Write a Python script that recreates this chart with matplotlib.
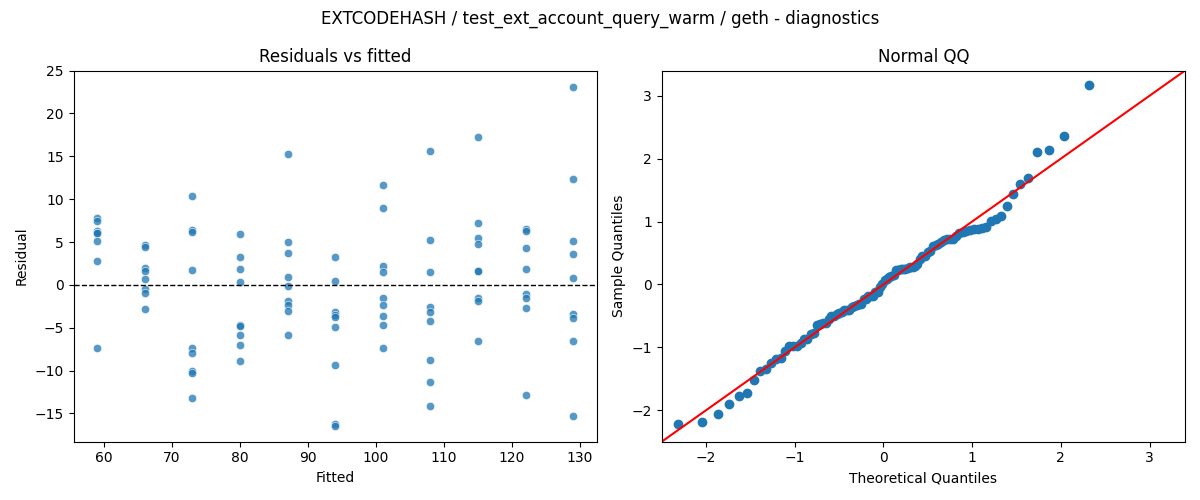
import numpy as np
import matplotlib
matplotlib.use("Agg")
import matplotlib.pyplot as plt
from statistics import NormalDist

fitted_levels = [59, 66, 73, 80, 87, 94, 101, 108, 115, 122, 129]
residual_groups = [
    [7.8, 7.5, 6.3, 6.0, 5.1, 2.8, -7.4, 6.1],
    [4.6, 4.4, 2.0, 1.6, 0.7, -0.5, -1.0, -2.8],
    [10.4, 6.4, 6.2, 1.7, -7.4, -7.9, -10.1, -10.3, -13.2],
    [5.9, 3.2, 1.9, 0.3, -4.7, -4.8, -5.8, -7.0, -8.9],
    [15.3, 5.0, 3.7, 0.9, -0.1, -1.9, -2.4, -3.1, -5.9],
    [3.2, 0.5, -3.2, -3.5, -3.8, -4.9, -9.4, -16.2, -16.5],
    [11.6, 9.0, 2.2, 1.5, -1.5, -2.4, -3.6, -4.7, -7.4],
    [15.6, 5.2, 1.5, -2.6, -3.2, -4.2, -8.8, -11.3, -14.1],
    [17.2, 7.2, 5.5, 4.8, 1.6, 1.6, -1.5, -1.9, -6.6],
    [6.5, 6.3, 4.3, 1.9, -1.1, -1.5, -2.7, -12.9],
    [23.1, 12.3, 5.1, 3.6, 0.8, -3.4, -3.9, -6.6, -15.3],
]

fitted = np.concatenate([[f] * len(g) for f, g in zip(fitted_levels, residual_groups)])
resid = np.concatenate([np.array(g, float) for g in residual_groups])

fig, (ax1, ax2) = plt.subplots(1, 2, figsize=(12, 5), dpi=100)
fig.suptitle("EXTCODEHASH / test_ext_account_query_warm / geth - diagnostics")

ax1.scatter(fitted, resid, color="#1f77b4", alpha=0.75, edgecolors="white", linewidths=0.5, s=36)
ax1.axhline(0, color="black", linestyle="--", linewidth=1)
ax1.set_title("Residuals vs fitted")
ax1.set_xlabel("Fitted")
ax1.set_ylabel("Residual")
ax1.set_yticks([-15, -10, -5, 0, 5, 10, 15, 20, 25])
ax1.set_ylim(-18.3, 25)

n = len(resid)
z = (np.sort(resid) - resid.mean()) / resid.std(ddof=1)
nd = NormalDist()
theo = np.array([nd.inv_cdf(i / (n + 1)) for i in range(1, n + 1)])
ax2.plot(theo, z, "o", color="#1f77b4", markersize=6)
ax2.set_xlim(-2.5, 3.4)
ax2.set_ylim(-2.5, 3.4)
ax2.plot([-2.5, 3.4], [-2.5, 3.4], color="red")
ax2.set_title("Normal QQ")
ax2.set_xlabel("Theoretical Quantiles")
ax2.set_ylabel("Sample Quantiles")

fig.tight_layout()
fig.savefig("out.png")
